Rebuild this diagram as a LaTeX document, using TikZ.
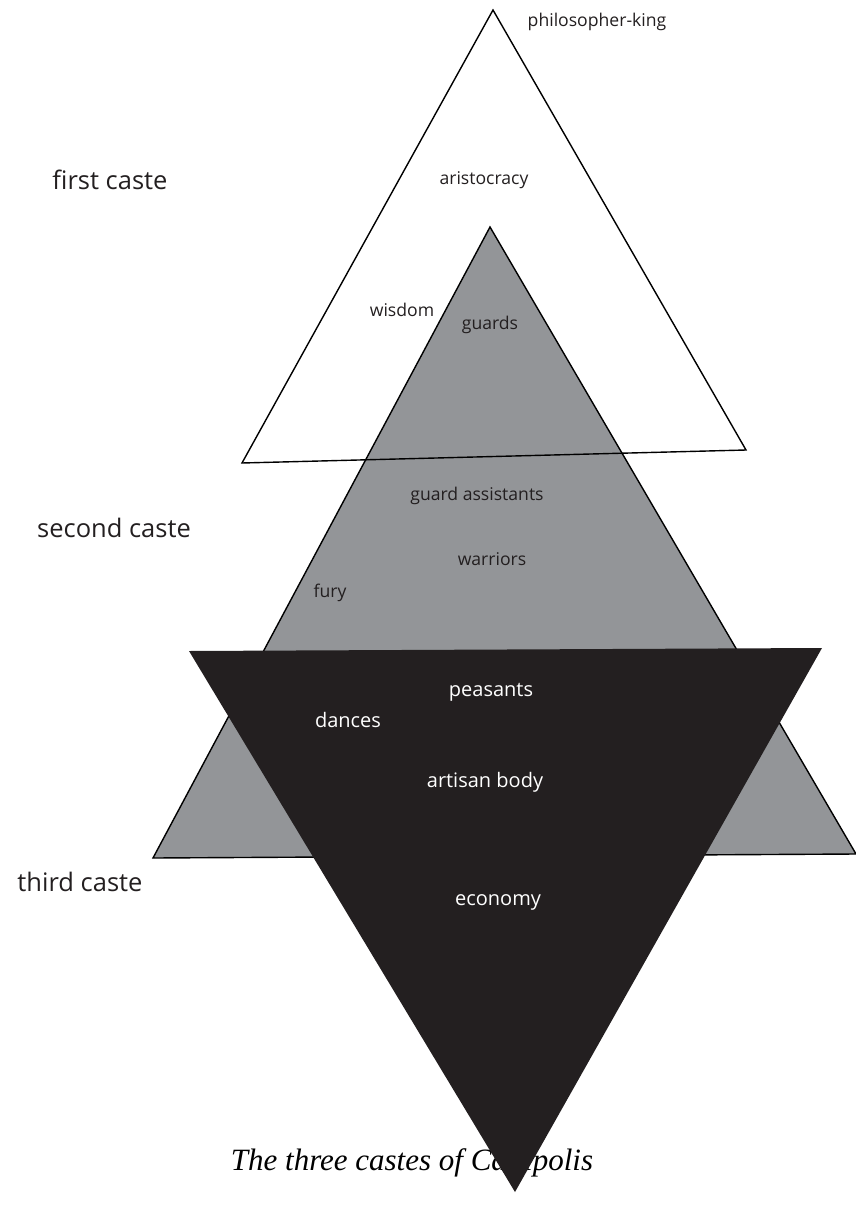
\documentclass[tikz,border=0pt]{standalone}
\usepackage{fontspec}
\setmainfont{Liberation Serif}
\newfontfamily\lblfont{Open Sans}
\definecolor{greyfill}{HTML}{939598}
\definecolor{darkfill}{HTML}{231F20}
\definecolor{txt}{HTML}{231F20}
\begin{document}
\begin{tikzpicture}[x=1pt,y=-1pt,
  lbl/.style={font=\lblfont\fontsize{17.6}{20}\selectfont, text=txt, inner sep=0pt},
  wlbl/.style={font=\lblfont\fontsize{20}{24}\selectfont, text=white, inner sep=0pt},
  caste/.style={font=\lblfont\fontsize{25.5}{30}\selectfont, text=txt, inner sep=0pt},
  tri/.style={draw=black, line width=1.4pt, line join=miter}]
\useasboundingbox (0,0) rectangle (856,1218);
% grey triangle
\coordinate (gA) at (490,227);
\coordinate (gL) at (153,858);
\coordinate (gR) at (856,854);
\fill[greyfill] (gA) -- (gL) -- (gR) -- cycle;
\draw[tri] (gA) -- (gL) -- (gR) -- cycle;
% white triangle outline
\coordinate (wA) at (493,10);
\coordinate (wL) at (242,463);
\coordinate (wR) at (746,450);
\draw[tri] (wA) -- (wL) -- (wR) -- cycle;
% caption
\node[font=\itshape\fontsize{31}{36}\selectfont, inner sep=0pt] (cap) at (412,1163) {The three castes of Callipolis};
% black triangle
\coordinate (bL) at (189,651);
\coordinate (bR) at (822,648);
\coordinate (bB) at (515,1192);
\fill[darkfill] (bL) -- (bR) -- (bB) -- cycle;
% labels
\node[lbl] (pk) at (597,22) {philosopher-king};
\node[caste] (c1) at (110,180) {first caste};
\node[lbl] (ar) at (484,180) {aristocracy};
\node[lbl] (wi) at (402,310) {wisdom};
\node[lbl] (gu) at (490,325) {guards};
\node[lbl] (ga) at (477,496) {guard assistants};
\node[caste] (c2) at (114,528) {second caste};
\node[lbl] (wa) at (492,559) {warriors};
\node[lbl] (fu) at (330,593) {fury};
\node[wlbl] (pe) at (491,692) {peasants};
\node[wlbl] (da) at (348,720) {dances};
\node[wlbl] (ab) at (485,782) {artisan body};
\node[caste] (c3) at (80,882) {third caste};
\node[wlbl] (ec) at (498,902) {economy};
\end{tikzpicture}
\end{document}
